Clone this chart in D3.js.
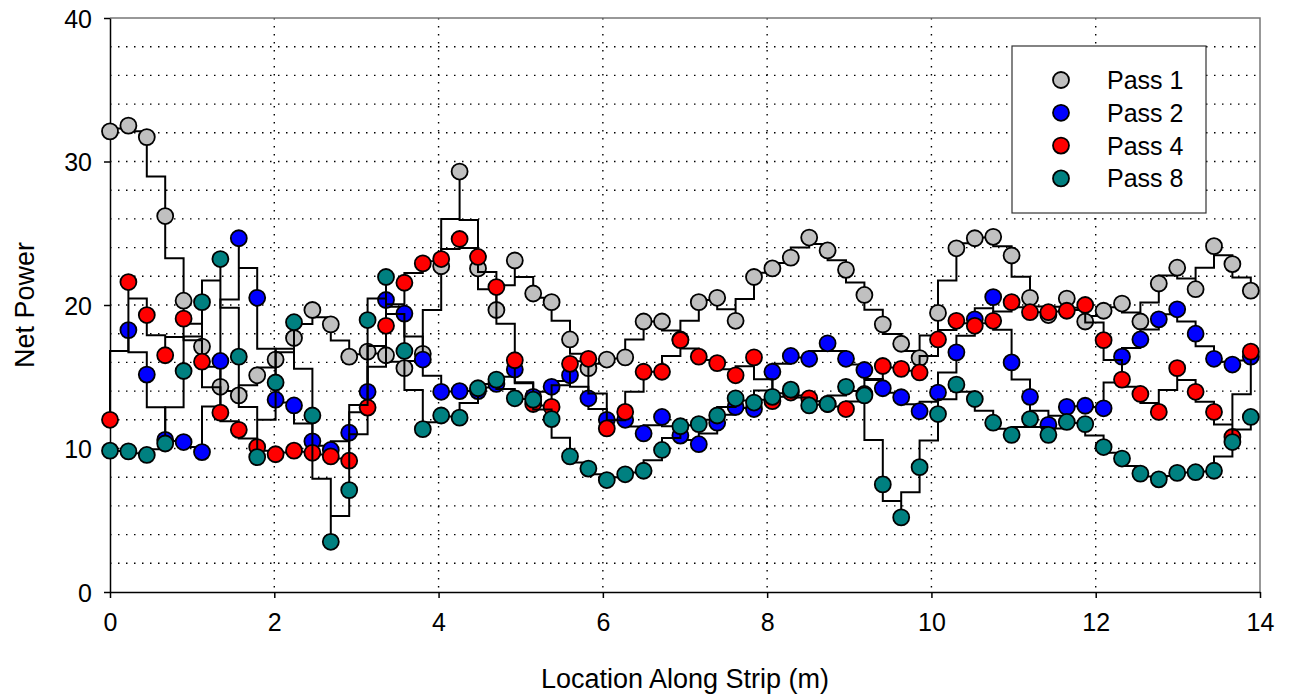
<!DOCTYPE html>
<html lang="en">
<meta charset="UTF-8">
<title>Net Power Along Strip</title>
<script src="https://d3js.org/d3.v7.min.js"></script>
<style>
body { margin: 0; background: #fff; }
svg text { font-family: Arial, "Liberation Sans", sans-serif; fill: #000; }
</style>
<body>
<div id="chart"></div>
<script>
// spacing between samples along the strip (m)
const step = 0.224;

// net power readings, one per sample (null = no reading)
const pass1 = [32.1, 32.5, 31.7, 26.2, 20.3, 17.1, 14.3, 13.7, 15.1, 16.2,
  17.7, 19.65, 18.65, 16.4, 16.75, 16.5, 15.6, 16.6, 22.7, 29.3,
  22.55, 19.65, 23.1, 20.8, 20.2, 17.6, 15.6, 16.2, 16.35, 18.85,
  18.85, 17.6, 20.2, 20.5, 18.9, 21.95, 22.55, 23.3, 24.7, 23.8,
  22.45, 20.7, 18.65, 17.3, 16.3, 19.45, 23.95, 24.65, 24.75, 23.45,
  20.5, 19.3, 20.45, 18.85, 19.6, 20.1, 18.85, 21.5, 22.6, 21.1,
  24.1, 22.85, 21.0];
const pass2 = [null, 18.25, 15.15, 10.6, 10.45, 9.75, 16.1, 24.65, 20.5, 13.4,
  13.0, 10.5, 9.9, 11.1, 13.95, 20.35, 19.4, 16.2, 13.95, 14.0,
  14.0, 14.5, 15.5, 13.6, 14.3, 15.1, 13.5, 12.0, 12.0, 11.05,
  12.2, 10.9, 10.3, 11.8, 12.9, 12.75, 15.35, 16.45, 16.25, 17.33,
  16.25, 15.47, 14.2, 13.57, 12.6, 13.9, 16.7, 19.0, 20.55, 16.0,
  13.6, 11.65, 12.9, 12.98, 12.8, 16.4, 17.6, 19.0, 19.7, 18.0,
  16.25, 15.85, 16.4];
const pass4 = [12.0, 21.6, 19.3, 16.5, 19.05, 16.05, 12.5, 11.3, 10.1, 9.6,
  9.85, 9.7, 9.45, 9.15, 12.85, 18.55, 21.55, 22.9, 23.2, 24.6,
  23.35, 21.25, 16.15, 13.1, 12.9, 15.9, 16.25, 11.4, 12.55, 15.35,
  15.35, 17.55, 16.4, 15.95, 15.1, 16.35, 13.3, 13.9, 13.5, 13.1,
  12.75, 13.8, 15.75, 15.55, 15.3, 17.6, 18.9, 18.55, 18.9, 20.2,
  19.5, 19.5, 19.6, 20.0, 17.55, 14.8, 13.8, 12.55, 15.6, 13.95,
  12.55, 10.8, 16.75];
const pass8 = [9.85, 9.8, 9.55, 10.35, 15.4, 20.2, 23.2, 16.4, 9.4, 14.6,
  18.8, 12.3, 3.5, 7.1, 18.95, 21.95, 16.8, 11.35, 12.3, 12.15,
  14.2, 14.8, 13.5, 13.4, 12.05, 9.45, 8.6, 7.8, 8.2, 8.45,
  9.9, 11.55, 11.7, 12.3, 13.5, 13.2, 13.6, 14.1, 13.0, 13.1,
  14.3, 13.7, 7.5, 5.2, 8.7, 12.4, 14.45, 13.45, 11.8, 10.95,
  12.05, 10.95, 11.85, 11.7, 10.1, 9.3, 8.25, 7.85, 8.3, 8.35,
  8.45, 10.45, 12.2];

const passNames = ["Pass 1", "Pass 2", "Pass 4", "Pass 8"];
const passColors = ["#C0C0C0", "#0000FF", "#FF0000", "#008080"];
const xTicks = [0, 2, 4, 6, 8, 10, 12, 14];
const yTicks = [0, 10, 20, 30, 40];
const xGrid = [2, 4, 6, 8, 10, 12];
const yGrid = [2, 4, 6, 8, 10, 12, 14, 16, 18, 20, 22, 24, 26, 28, 30, 32, 34, 36, 38];

var margin = {top: 18, right: 29, bottom: 102, left: 110},
    width = 1289 - margin.left - margin.right,
    height = 694 - margin.top - margin.bottom;

var svg = d3.select("#chart")
  .append("svg")
  .attr("width", width + margin.left + margin.right)
  .attr("height", height + margin.top + margin.bottom)
  .append("g")
  .attr("transform", "translate(" + margin.left + "," + margin.top + ")");

var x = d3.scaleLinear().domain([0, 14]).range([0, width]);
var y = d3.scaleLinear().domain([0, 40]).range([height, 0]);

// dotted grid
svg.selectAll(".hgrid").data(yGrid).enter().append("line")
  .attr("x1", 0).attr("x2", width)
  .attr("y1", d => y(d)).attr("y2", d => y(d))
  .attr("stroke", "#000").attr("stroke-width", 1.4)
  .attr("stroke-dasharray", "1.5,6.5");
svg.selectAll(".vgrid").data(xGrid).enter().append("line")
  .attr("y1", 0).attr("y2", height)
  .attr("x1", d => x(d)).attr("x2", d => x(d))
  .attr("stroke", "#000").attr("stroke-width", 1.4)
  .attr("stroke-dasharray", "1.5,6.5");

// top and right frame
svg.append("path")
  .attr("d", "M0,0H" + width + "V" + height)
  .attr("fill", "none").attr("stroke", "#777").attr("stroke-width", 1.5);

// axes
var xAxis = svg.append("g")
  .attr("transform", "translate(0," + height + ")")
  .call(d3.axisBottom(x).tickValues(xTicks).tickSize(6).tickSizeOuter(0).tickPadding(15));
var yAxis = svg.append("g")
  .call(d3.axisLeft(y).tickValues(yTicks).tickSize(6).tickSizeOuter(0).tickPadding(12));
[xAxis, yAxis].forEach(function(a) {
  a.selectAll("path, line").attr("stroke", "#000").attr("stroke-width", 1.5);
  a.selectAll("text").style("font-size", "25px").attr("fill", "#000");
});
yAxis.selectAll("text").attr("dy", "0.36em");

// axis titles
svg.append("text")
  .attr("x", width / 2)
  .attr("y", height + 96)
  .style("text-anchor", "middle")
  .style("font-size", "27px")
  .text("Location Along Strip (m)");
svg.append("text")
  .attr("transform", "rotate(-90)")
  .attr("x", -height / 2)
  .attr("y", -76)
  .style("text-anchor", "middle")
  .style("font-size", "27px")
  .text("Net Power");

// step outline: vertical to mid level, across, vertical to next point
function stepPoints(vals) {
  var pts = [];
  for (var i = 0; i < vals.length - 1; i++) {
    if (vals[i] == null || vals[i + 1] == null) continue;
    var mid = (vals[i] + vals[i + 1]) / 2;
    pts.push([i, vals[i]], [i, mid], [i + 1, mid], [i + 1, vals[i + 1]]);
  }
  return pts;
}

var line = d3.line()
  .x(d => x(d[0] * step))
  .y(d => y(d[1]));

[pass1, pass2, pass4, pass8].forEach(function(vals, k) {
  var g = svg.append("g");
  g.append("path")
    .attr("d", line(stepPoints(vals)))
    .attr("fill", "none")
    .attr("stroke", "#000")
    .attr("stroke-width", 2);
  g.selectAll("circle")
    .data(vals.map((v, i) => [i, v]).filter(d => d[1] != null))
    .enter().append("circle")
    .attr("cx", d => x(d[0] * step))
    .attr("cy", d => y(d[1]))
    .attr("r", 8)
    .attr("fill", passColors[k])
    .attr("stroke", "#000")
    .attr("stroke-width", 1.8);
});

// legend
var legend = svg.append("g").attr("transform", "translate(" + (1012 - margin.left) + "," + (46 - margin.top) + ")");
legend.append("rect")
  .attr("width", 194).attr("height", 167)
  .attr("fill", "#fff").attr("stroke", "#333").attr("stroke-width", 1.2);
passNames.forEach(function(name, k) {
  var ly = 34 + k * 32.8;
  legend.append("circle")
    .attr("cx", 49).attr("cy", ly).attr("r", 8)
    .attr("fill", passColors[k]).attr("stroke", "#000").attr("stroke-width", 1.8);
  legend.append("text")
    .attr("x", 95).attr("y", ly).attr("dy", "0.36em")
    .style("font-size", "25px")
    .text(name);
});
</script>
</body>
</html>
